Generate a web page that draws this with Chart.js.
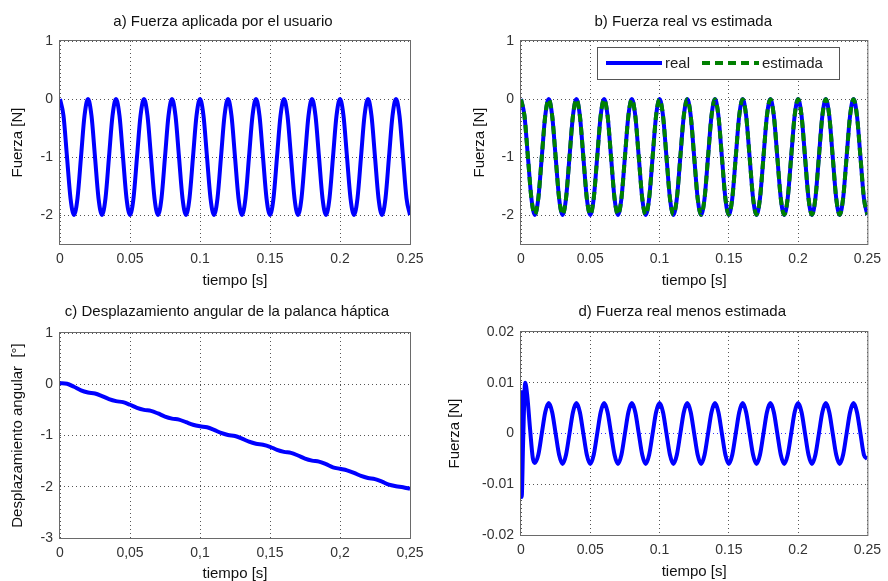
<!DOCTYPE html>
<html>
<head>
<meta charset="utf-8">
<script src="https://cdn.jsdelivr.net/npm/chart.js@4"></script>
<style>
  body { margin: 0; background: #fff; width: 888px; height: 581px; position: relative; overflow: hidden; }
  canvas { position: absolute; }
</style>
</head>
<body>
<canvas id="a" width="444" height="290" style="left:0;top:0"></canvas>
<canvas id="b" width="444" height="290" style="left:444px;top:0"></canvas>
<canvas id="c" width="444" height="291" style="left:0;top:290px"></canvas>
<canvas id="d" width="444" height="291" style="left:444px;top:290px"></canvas>
<script>
const FONT = "'Liberation Sans', Arial, Helvetica, sans-serif";
Chart.defaults.font.family = FONT;
Chart.defaults.color = "#333";

// tiempo [s], un periodo (0.02 s) por fila
const tiempo = [
  0, 0.0025, 0.005, 0.0075, 0.01, 0.0125, 0.015, 0.0175,
  0.02, 0.0225, 0.025, 0.0275, 0.03, 0.0325, 0.035, 0.0375,
  0.04, 0.0425, 0.045, 0.0475, 0.05, 0.0525, 0.055, 0.0575,
  0.06, 0.0625, 0.065, 0.0675, 0.07, 0.0725, 0.075, 0.0775,
  0.08, 0.0825, 0.085, 0.0875, 0.09, 0.0925, 0.095, 0.0975,
  0.1, 0.1025, 0.105, 0.1075, 0.11, 0.1125, 0.115, 0.1175,
  0.12, 0.1225, 0.125, 0.1275, 0.13, 0.1325, 0.135, 0.1375,
  0.14, 0.1425, 0.145, 0.1475, 0.15, 0.1525, 0.155, 0.1575,
  0.16, 0.1625, 0.165, 0.1675, 0.17, 0.1725, 0.175, 0.1775,
  0.18, 0.1825, 0.185, 0.1875, 0.19, 0.1925, 0.195, 0.1975,
  0.2, 0.2025, 0.205, 0.2075, 0.21, 0.2125, 0.215, 0.2175,
  0.22, 0.2225, 0.225, 0.2275, 0.23, 0.2325, 0.235, 0.2375,
  0.24, 0.2425, 0.245, 0.2475, 0.25
];

// fuerza aplicada / real [N]
const fuerzaReal = [
  0, -0.29, -1, -1.71, -2, -1.71, -1, -0.29,
  0, -0.29, -1, -1.71, -2, -1.71, -1, -0.29,
  0, -0.29, -1, -1.71, -2, -1.71, -1, -0.29,
  0, -0.29, -1, -1.71, -2, -1.71, -1, -0.29,
  0, -0.29, -1, -1.71, -2, -1.71, -1, -0.29,
  0, -0.29, -1, -1.71, -2, -1.71, -1, -0.29,
  0, -0.29, -1, -1.71, -2, -1.71, -1, -0.29,
  0, -0.29, -1, -1.71, -2, -1.71, -1, -0.29,
  0, -0.29, -1, -1.71, -2, -1.71, -1, -0.29,
  0, -0.29, -1, -1.71, -2, -1.71, -1, -0.29,
  0, -0.29, -1, -1.71, -2, -1.71, -1, -0.29,
  0, -0.29, -1, -1.71, -2, -1.71, -1, -0.29,
  0, -0.29, -1, -1.71, -2
];

// fuerza estimada [N]
const fuerzaEstimada = [
  -0.008, -0.29, -1, -1.71, -1.99, -1.71, -1, -0.29,
  -0.006, -0.29, -1, -1.71, -1.994, -1.71, -1, -0.29,
  -0.006, -0.29, -1, -1.71, -1.994, -1.71, -1, -0.29,
  -0.006, -0.29, -1, -1.71, -1.994, -1.71, -1, -0.29,
  -0.006, -0.29, -1, -1.71, -1.994, -1.71, -1, -0.29,
  -0.006, -0.29, -1, -1.71, -1.994, -1.71, -1, -0.29,
  -0.006, -0.29, -1, -1.71, -1.994, -1.71, -1, -0.29,
  -0.006, -0.29, -1, -1.71, -1.994, -1.71, -1, -0.29,
  -0.006, -0.29, -1, -1.71, -1.994, -1.71, -1, -0.29,
  -0.006, -0.29, -1, -1.71, -1.994, -1.71, -1, -0.29,
  -0.006, -0.29, -1, -1.71, -1.994, -1.71, -1, -0.29,
  -0.006, -0.29, -1, -1.71, -1.994, -1.71, -1, -0.29,
  -0.006, -0.29, -1, -1.71, -1.995
];

// desplazamiento angular [°]
const tiempoAngulo = [
  0, 0.005, 0.01, 0.015, 0.02, 0.025, 0.03, 0.035, 0.04, 0.045,
  0.05, 0.055, 0.06, 0.065, 0.07, 0.075, 0.08, 0.085, 0.09, 0.095,
  0.1, 0.105, 0.11, 0.115, 0.12, 0.125, 0.13, 0.135, 0.14, 0.145,
  0.15, 0.155, 0.16, 0.165, 0.17, 0.175, 0.18, 0.185, 0.19, 0.195,
  0.2, 0.205, 0.21, 0.215, 0.22, 0.225, 0.23, 0.235, 0.24, 0.245,
  0.25
];
const desplazamiento = [
  0.02, 0.01, -0.05, -0.12, -0.16, -0.18, -0.23, -0.29, -0.33, -0.35,
  -0.40, -0.46, -0.50, -0.52, -0.57, -0.63, -0.67, -0.69, -0.74, -0.79,
  -0.82, -0.84, -0.89, -0.95, -0.99, -1.01, -1.06, -1.12, -1.16, -1.18,
  -1.22, -1.28, -1.32, -1.34, -1.39, -1.45, -1.49, -1.51, -1.56, -1.62,
  -1.65, -1.68, -1.73, -1.79, -1.83, -1.85, -1.90, -1.96, -1.99, -2.01,
  -2.04
];

// fuerza real menos estimada [N]
const tiempoDif = [
  0, 0.0005, 0.0015, 0.003, 0.0045, 0.0065, 0.0085, 0.01, 0.0125, 0.015, 0.0175,
  0.02, 0.0225, 0.025, 0.0275, 0.03, 0.0325, 0.035, 0.0375,
  0.04, 0.0425, 0.045, 0.0475, 0.05, 0.0525, 0.055, 0.0575,
  0.06, 0.0625, 0.065, 0.0675, 0.07, 0.0725, 0.075, 0.0775,
  0.08, 0.0825, 0.085, 0.0875, 0.09, 0.0925, 0.095, 0.0975,
  0.1, 0.1025, 0.105, 0.1075, 0.11, 0.1125, 0.115, 0.1175,
  0.12, 0.1225, 0.125, 0.1275, 0.13, 0.1325, 0.135, 0.1375,
  0.14, 0.1425, 0.145, 0.1475, 0.15, 0.1525, 0.155, 0.1575,
  0.16, 0.1625, 0.165, 0.1675, 0.17, 0.1725, 0.175, 0.1775,
  0.18, 0.1825, 0.185, 0.1875, 0.19, 0.1925, 0.195, 0.1975,
  0.2, 0.2025, 0.205, 0.2075, 0.21, 0.2125, 0.215, 0.2175,
  0.22, 0.2225, 0.225, 0.2275, 0.23, 0.2325, 0.235, 0.2375,
  0.24, 0.2425, 0.245, 0.2475, 0.25
];
const diferencia = [
  0.0085, -0.0125, -0.002, 0.010, 0.0075, 0.001, -0.0048, -0.0058, -0.0042, 0, 0.0042,
  0.006, 0.0042, 0, -0.0042, -0.006, -0.0042, 0, 0.0042,
  0.006, 0.0042, 0, -0.0042, -0.006, -0.0042, 0, 0.0042,
  0.006, 0.0042, 0, -0.0042, -0.006, -0.0042, 0, 0.0042,
  0.006, 0.0042, 0, -0.0042, -0.006, -0.0042, 0, 0.0042,
  0.006, 0.0042, 0, -0.0042, -0.006, -0.0042, 0, 0.0042,
  0.006, 0.0042, 0, -0.0042, -0.006, -0.0042, 0, 0.0042,
  0.006, 0.0042, 0, -0.0042, -0.006, -0.0042, 0, 0.0042,
  0.006, 0.0042, 0, -0.0042, -0.006, -0.0042, 0, 0.0042,
  0.006, 0.0042, 0, -0.0042, -0.006, -0.0042, 0, 0.0042,
  0.006, 0.0042, 0, -0.0042, -0.006, -0.0042, 0, 0.0042,
  0.006, 0.0042, 0, -0.0042, -0.006, -0.0042, 0, 0.0042,
  0.006, 0.0042, 0, -0.0042, -0.005
];

// ticks
const ticksTiempo = [0, 0.05, 0.1, 0.15, 0.2, 0.25];
const etiquetasTiempo = ["0", "0.05", "0.1", "0.15", "0.2", "0.25"];
const etiquetasTiempoComa = ["0", "0,05", "0,1", "0,15", "0,2", "0,25"];
const ticksFuerza = [-2, -1, 0, 1];
const ticksAngulo = [-3, -2, -1, 0, 1];
const ticksDif = [-0.02, -0.01, 0, 0.01, 0.02];
const etiquetasDif = ["-0.02", "-0.01", "0", "0.01", "0.02"];

const pts = (xs, ys) => xs.map((x, i) => ({ x: x, y: ys[i] }));

// caja de ejes, titulo y leyenda estilo matlab
const marco = {
  id: "marco",
  afterDatasetsDraw(chart, args, opts) {
    const { ctx, chartArea: ca } = chart;
    ctx.save();
    ctx.strokeStyle = "#6a6a6a";
    ctx.lineWidth = 1;
    ctx.strokeRect(ca.left - 0.5, ca.top - 0.5, ca.right - ca.left + 1, ca.bottom - ca.top + 1);

    ctx.fillStyle = "#111";
    ctx.font = "15px " + FONT;
    ctx.textAlign = "center";
    ctx.textBaseline = "middle";
    ctx.fillText(opts.titulo, (ca.left + ca.right) / 2 + opts.dx, 22);

    if (opts.leyenda) {
      const lx = ca.left + 76, ly = ca.top + 6, w = 242, h = 32, my = ly + h / 2;
      ctx.fillStyle = "#fff";
      ctx.fillRect(lx, ly, w, h);
      ctx.strokeStyle = "#555";
      ctx.strokeRect(lx + 0.5, ly + 0.5, w, h);
      const items = [[9, 65, 68], [105, 162, 165]];
      chart.data.datasets.forEach((ds, i) => {
        const it = items[i];
        ctx.strokeStyle = ds.borderColor;
        ctx.lineWidth = ds.borderWidth;
        ctx.setLineDash(ds.borderDash || []);
        ctx.beginPath();
        ctx.moveTo(lx + it[0], my);
        ctx.lineTo(lx + it[1], my);
        ctx.stroke();
        ctx.setLineDash([]);
        ctx.fillStyle = "#222";
        ctx.textAlign = "left";
        ctx.fillText(ds.label, lx + it[2], my + 1);
      });
    }
    ctx.restore();
  }
};

function panel(id, o) {
  new Chart(document.getElementById(id), {
    type: "line",
    data: { datasets: o.datasets },
    options: {
      responsive: false,
      animation: false,
      events: [],
      layout: { padding: { left: 0, top: o.top, right: o.right, bottom: 0 } },
      plugins: {
        legend: { display: false },
        tooltip: { enabled: false },
        marco: { titulo: o.titulo, dx: o.dx, leyenda: o.leyenda }
      },
      elements: {
        point: { radius: 0 },
        line: { cubicInterpolationMode: "monotone" }
      },
      scales: {
        x: {
          type: "linear",
          min: 0,
          max: 0.25,
          afterBuildTicks: (s) => { s.ticks = ticksTiempo.map((v) => ({ value: v })); },
          afterFit: (s) => { s.height = o.bottom; },
          ticks: {
            padding: 7,
            maxRotation: 0,
            autoSkip: false,
            color: "#333",
            font: { size: 14 },
            callback: (v, i) => o.xEtiquetas[i]
          },
          grid: { color: "#555", drawTicks: false },
          border: { display: false, dash: [1, 3] },
          title: {
            display: true,
            text: "tiempo [s]",
            color: "#111",
            font: { size: 15, lineHeight: o.xLH },
            padding: { top: 0, bottom: 0 }
          }
        },
        y: {
          min: o.yMin,
          max: o.yMax,
          afterBuildTicks: (s) => { s.ticks = o.yTicks.map((v) => ({ value: v })); },
          afterFit: (s) => { s.width = o.left; },
          ticks: {
            padding: 7,
            color: "#333",
            font: { size: 14 },
            callback: (v, i) => o.yEtiquetas ? o.yEtiquetas[i] : String(v)
          },
          grid: {
            color: o.gridY || "#555",
            drawTicks: false
          },
          border: { display: false, dash: [1, 3] },
          title: {
            display: true,
            text: o.yTitulo,
            color: "#111",
            font: { size: 15, lineHeight: 1.2 },
            padding: { top: o.yPad, bottom: 0 }
          }
        }
      }
    },
    plugins: [marco]
  });
}

const azul = "#0000ff";
const verde = "#008000";

panel("a", {
  titulo: "a) Fuerza aplicada por el usuario", dx: -12,
  left: 60, top: 41, right: 34, bottom: 46, xLH: 1.2,
  yMin: -2.5, yMax: 1, yTicks: ticksFuerza, yTitulo: "Fuerza [N]", yPad: 9,
  xEtiquetas: etiquetasTiempo,
  datasets: [
    { label: "real", data: pts(tiempo, fuerzaReal), borderColor: azul, borderWidth: 4 }
  ]
});

// la estimada (verde discontinua) se dibuja encima de la real
panel("b", {
  titulo: "b) Fuerza real vs estimada", dx: -11, leyenda: true,
  left: 77, top: 41, right: 16, bottom: 46, xLH: 1.2,
  yMin: -2.5, yMax: 1, yTicks: ticksFuerza, yTitulo: "Fuerza [N]", yPad: 27,
  xEtiquetas: etiquetasTiempo,
  datasets: [
    { label: "real", data: pts(tiempo, fuerzaReal), borderColor: azul, borderWidth: 4, order: 2 },
    { label: "estimada", data: pts(tiempo, fuerzaEstimada), borderColor: verde, borderWidth: 4, borderDash: [8, 5], order: 1 }
  ]
});

panel("c", {
  titulo: "c) Desplazamiento angular de la palanca háptica", dx: -8,
  left: 60, top: 43, right: 34, bottom: 43, xLH: 0.9,
  yMin: -3, yMax: 1, yTicks: ticksAngulo, yTitulo: "Desplazamiento angular  [°]", yPad: 9,
  xEtiquetas: etiquetasTiempoComa,
  datasets: [
    { label: "angulo", data: pts(tiempoAngulo, desplazamiento), borderColor: azul, borderWidth: 4 }
  ]
});

panel("d", {
  titulo: "d) Fuerza real menos estimada", dx: -12,
  left: 77, top: 42, right: 16, bottom: 46, xLH: 1.2,
  yMin: -0.02, yMax: 0.02, yTicks: ticksDif, yEtiquetas: etiquetasDif,
  yTitulo: "Fuerza [N]", yPad: 2,
  gridY: (c) => (c.tick && c.tick.value === 0 ? "#3a3aff" : "#555"),
  xEtiquetas: etiquetasTiempo,
  datasets: [
    { label: "diferencia", data: pts(tiempoDif, diferencia), borderColor: azul, borderWidth: 4 }
  ]
});
</script>
</body>
</html>
